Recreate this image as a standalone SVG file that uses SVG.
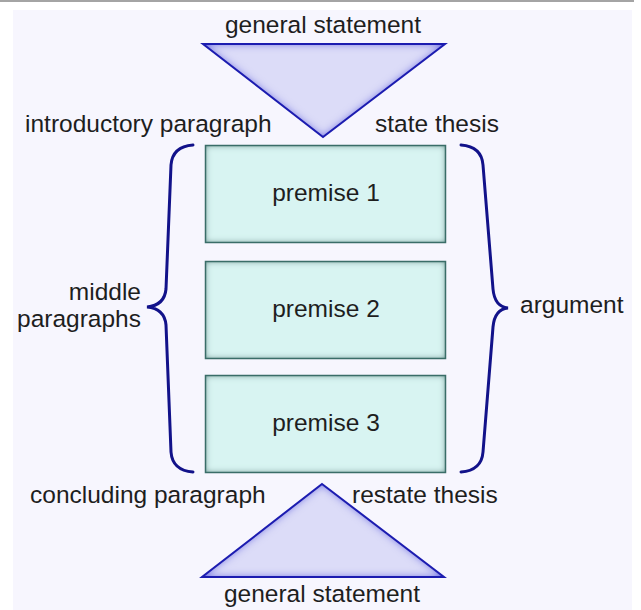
<svg xmlns="http://www.w3.org/2000/svg" width="641" height="610" viewBox="0 0 641 610">
<style>
text{font-family:"Liberation Sans",Arial,sans-serif;font-size:24.5px;fill:#1e1e1e}
.box{fill:#d8f4f2}
.boxedge{fill:none;stroke:#3a6d68;stroke-width:1.5}
.tri{fill:#dcdcf8}
.triedge{fill:none;stroke:#1c1cb0;stroke-width:2;stroke-linejoin:miter}
.brace{fill:none;stroke:#12128a;stroke-width:3;stroke-linecap:round}
</style>
<defs>
<filter id="glowBlue" x="-10%" y="-10%" width="120%" height="120%">
<feFlood flood-color="#2a2ae0"/>
<feComposite in2="SourceAlpha" operator="out"/>
<feGaussianBlur stdDeviation="4"/>
<feComposite in2="SourceAlpha" operator="in" result="g"/>
<feMerge><feMergeNode in="SourceGraphic"/><feMergeNode in="g"/></feMerge>
</filter>
<filter id="glowTeal" x="-10%" y="-10%" width="120%" height="120%">
<feFlood flood-color="#3a7a74"/>
<feComposite in2="SourceAlpha" operator="out"/>
<feGaussianBlur stdDeviation="3"/>
<feComposite in2="SourceAlpha" operator="in" result="g"/>
<feMerge><feMergeNode in="SourceGraphic"/><feMergeNode in="g"/></feMerge>
</filter>
</defs>
<rect x="0" y="0" width="641" height="610" fill="#ffffff"/>
<rect x="0" y="0" width="634" height="2" fill="#a4a4a4"/>
<rect x="13" y="10" width="619" height="600" fill="#f7f6fe"/>

<g id="top-triangle">
<polygon class="tri" points="203,44 445,44 323,137" filter="url(#glowBlue)"/>
<polygon class="triedge" points="203,44 445,44 323,137"/>
<text x="323" y="33" text-anchor="middle">general statement</text>
</g>
<g id="intro-label"><text x="25" y="132">introductory paragraph</text></g>
<g id="state-thesis"><text x="375" y="132">state thesis</text></g>

<g id="premise1">
<rect class="box" x="205.5" y="145.5" width="240" height="97" filter="url(#glowTeal)"/>
<rect class="boxedge" x="205.5" y="145.5" width="240" height="97"/>
<text x="326" y="201" text-anchor="middle">premise 1</text>
</g>
<g id="premise2">
<rect class="box" x="205.5" y="261.5" width="240" height="97" filter="url(#glowTeal)"/>
<rect class="boxedge" x="205.5" y="261.5" width="240" height="97"/>
<text x="326" y="317" text-anchor="middle">premise 2</text>
</g>
<g id="premise3">
<rect class="box" x="205.5" y="375.5" width="240" height="97" filter="url(#glowTeal)"/>
<rect class="boxedge" x="205.5" y="375.5" width="240" height="97"/>
<text x="326" y="431" text-anchor="middle">premise 3</text>
</g>

<g id="connectors">
<path class="brace" d="M193,145 C180,146 172,152 171,165 L166,289 C165,300 158,306 147,307 C158,308 165,314 166,325 L171,452 C172,465 180,471 193,472"/>
<path class="brace" d="M461,145 C474,146 482,152 483,165 L493,289 C494,300 498,307 508,308 C498,309 494,316 493,327 L483,452 C482,465 474,471 461,472"/>
</g>

<g id="middle-label">
<text x="141" y="300" text-anchor="end">middle</text>
<text x="141" y="327" text-anchor="end">paragraphs</text>
</g>
<g id="argument-label"><text x="520" y="313">argument</text></g>

<g id="concluding-label"><text x="30" y="503">concluding paragraph</text></g>
<g id="restate-thesis"><text x="352" y="503">restate thesis</text></g>

<g id="bottom-triangle">
<polygon class="tri" points="322,484 444,577 202,577" filter="url(#glowBlue)"/>
<polygon class="triedge" points="322,484 444,577 202,577"/>
<text x="322" y="602" text-anchor="middle">general statement</text>
</g>
</svg>
